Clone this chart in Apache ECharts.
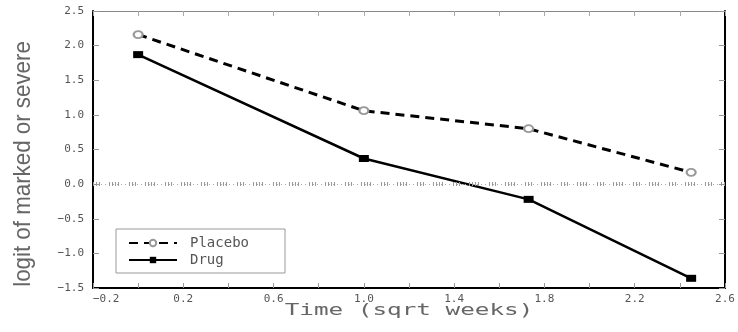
<!DOCTYPE html>
<html>
<head>
<meta charset="utf-8">
<script src="https://cdn.jsdelivr.net/npm/echarts@6/dist/echarts.min.js"></script>
<style>html,body{margin:0;padding:0;background:#fff}#c{width:738px;height:332px}</style>
</head>
<body>
<div id="c"></div>
<script>
// Data
var timeSqrtWeeks = [0, 1, 1.73, 2.45];
var placebo = [2.16, 1.06, 0.80, 0.17];
var drug = [1.87, 0.37, -0.22, -1.36];
var seriesNames = ['Placebo', 'Drug'];
var xTitle = 'Time (sqrt weeks)';
var yTitle = 'logit of marked or severe';

function pairs(xs, ys) { return xs.map(function (x, i) { return [x, ys[i]]; }); }
function fmt(v) { var s = v.toFixed(1); return s.replace('-', '\u2212'); }

var mono = '"DejaVu Sans Mono", "Liberation Mono", monospace';
var chart = echarts.init(document.getElementById('c'), null, { renderer: 'canvas' });

chart.setOption({
  animation: false,
  backgroundColor: '#fff',
  grid: { left: 93, right: 13, top: 11, bottom: 44, containLabel: false },
  xAxis: [{
    type: 'value', position: 'bottom', min: -0.2, max: 2.6, interval: 0.2,
    axisLine: { show: true, onZero: false, lineStyle: { color: '#000', width: 2 } },
    axisTick: { show: true, inside: true, length: 5, lineStyle: { color: '#999' } },
    splitLine: { show: false },
    axisLabel: {
      color: '#555', fontFamily: mono, fontSize: 11, margin: 6,
      alignMinLabel: 'left',
      formatter: function (v) {
        var k = Math.round((v + 0.2) / 0.2);
        return k % 2 === 0 ? fmt(v) : '';
      }
    }
  }, {
    type: 'value', position: 'top', min: -0.2, max: 2.6, interval: 0.2,
    axisLine: { show: true, onZero: false, lineStyle: { color: '#888', width: 1 } },
    axisTick: { show: true, inside: true, length: 5, lineStyle: { color: '#aaa' } },
    axisLabel: { show: false }, splitLine: { show: false }
  }],
  yAxis: [{
    type: 'value', position: 'left', min: -1.5, max: 2.5, interval: 0.5,
    axisLine: { show: true, onZero: false, lineStyle: { color: '#000', width: 2 } },
    axisTick: { show: true, inside: true, length: 6, lineStyle: { color: '#999' } },
    splitLine: { show: false },
    axisLabel: { color: '#555', fontFamily: mono, fontSize: 11, margin: 9, formatter: fmt }
  }, {
    type: 'value', position: 'right', min: -1.5, max: 2.5, interval: 0.5,
    axisLine: { show: true, onZero: false, lineStyle: { color: '#000', width: 2 } },
    axisTick: { show: true, inside: true, length: 6, lineStyle: { color: '#999' } },
    axisLabel: { show: false }, splitLine: { show: false }
  }],
  legend: {
    orient: 'vertical', left: 116, top: 229,
    padding: [7, 36, 6, 12], itemGap: 3,
    itemWidth: 48, itemHeight: 8,
    borderColor: '#999', borderWidth: 1, backgroundColor: '#fff',
    textStyle: { color: '#555', fontFamily: mono, fontSize: 14, padding: [0, 0, 0, 8] },
    data: seriesNames
  },
  graphic: [{
    type: 'text', x: 409, y: 311,
    style: { text: xTitle, fill: '#666', font: '15px ' + mono, textAlign: 'center', textVerticalAlign: 'middle' },
    scaleX: 1.62
  }, {
    type: 'text', x: 11, y: 164, rotation: Math.PI / 2,
    style: { text: yTitle, fill: '#666', font: '24px "Liberation Sans", Arial, sans-serif', textAlign: 'center', textVerticalAlign: 'top' },
    scaleX: 0.93
  }],
  series: [{
    name: seriesNames[0], type: 'line', data: pairs(timeSqrtWeeks, placebo),
    symbol: 'emptyCircle', symbolSize: [9, 7],
    itemStyle: { color: '#999', borderWidth: 1 },
    lineStyle: { color: '#000', width: 3, type: [9, 6] },
    z: 3,
    markLine: {
      silent: true, symbol: 'none', label: { show: false },
      data: [
        { yAxis: 0, lineStyle: { color: '#aaa', width: 1, type: [1, 3] } },
        { yAxis: 0, lineStyle: { color: '#999', width: 4, type: [1, 2, 1, 2, 1, 9, 1, 2, 1, 2, 1, 2, 1, 10] } }
      ]
    }
  }, {
    name: seriesNames[1], type: 'line', data: pairs(timeSqrtWeeks, drug),
    symbol: 'rect', symbolSize: [10, 7],
    itemStyle: { color: '#000' },
    lineStyle: { color: '#000', width: 2.5, type: 'solid' },
    z: 3
  }]
});
</script>
</body>
</html>
